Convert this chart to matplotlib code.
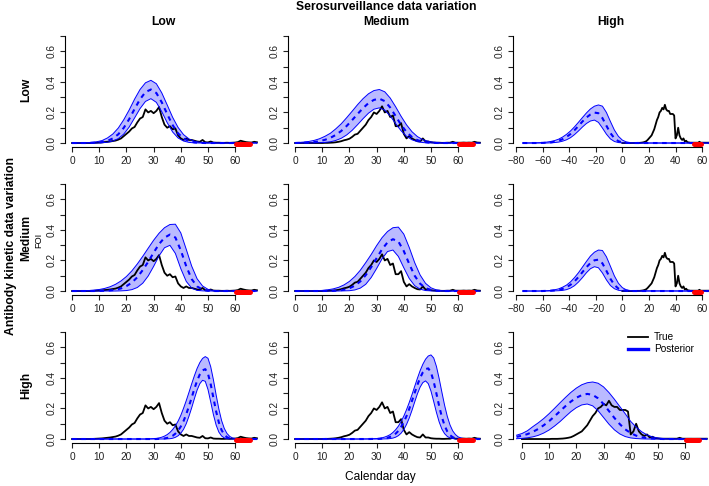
import numpy as np
import matplotlib.pyplot as plt

plt.rcParams['font.family'] = ['Liberation Sans', 'DejaVu Sans']

# calendar days of the simulated (true) force of infection
days = np.arange(0, 69)

# true FOI, one curve per serosurveillance column (low, medium, high)
true_low = [0, 0, 0, 0, 0, 0, 0, 0, .001, .002,
            .003, .004, .006, .008, .010, .013, .016, .022, .030, .045,
            .060, .075, .095, .105, .135, .160, .170, .220, .200, .210,
            .195, .210, .235, .170, .120, .100, .110, .090, .095, .050,
            .030, .020, .030, .020, .020, .015, .010, .008, .020, .005,
            .004, .010, .003, .002, .002, .001, .001, .002, .001, .002,
            .003, .006, .015, .010, .006, .004, .003, .008, .005]
true_med = [0, 0, 0, 0, 0, 0, 0, 0, 0, 0,
            0, .001, .001, .002, .003, .005, .008, .012, .018, .022,
            .028, .040, .055, .060, .080, .100, .120, .150, .170, .200,
            .190, .210, .240, .200, .210, .170, .180, .110, .110, .130,
            .060, .030, .045, .030, .020, .012, .010, .030, .010, .010,
            .005, .003, .002, .002, .001, .001, .002, .002, .008, .002,
            .002, .002, .003, .002, .003, .002, .008, .003, .002]
true_high = [0, 0, 0, 0, 0, 0, 0, 0, 0, 0,
             0, .001, .001, .001, .002, .003, .005, .008, .012, .020,
             .030, .040, .050, .070, .090, .120, .150, .170, .200, .210,
             .230, .220, .250, .220, .210, .210, .190, .190, .190, .180,
             .030, .050, .100, .050, .030, .020, .030, .010, .015, .005,
             .004, .002, .002, .002, .002, .002, .002, .002, .008, .002,
             .002, .002, .002, .002, .002, .002, .002, .002, .002]

# posterior FOI: upper / median / lower, row = antibody kinetics, col = serosurveillance
x11 = [0, 5, 9, 11, 13, 15, 17, 19, 21, 23, 25, 27, 29, 31, 33, 35, 37, 39, 41, 43, 45, 47, 49, 51, 68]
up11 = [0, .001, .008, .016, .033, .059, .098, .152, .216, .287, .350, .394, .410, .388, .328, .249, .168, .102, .055, .027, .012, .005, .002, 0, 0]
md11 = [0, 0, .002, .006, .014, .030, .057, .099, .156, .223, .286, .333, .350, .327, .266, .189, .117, .063, .030, .012, .004, .001, 0, 0, 0]
lo11 = [0, 0, 0, .002, .005, .013, .029, .058, .104, .164, .225, .272, .290, .266, .205, .133, .072, .033, .013, .004, .001, 0, 0, 0, 0]

x12 = [0, 1, 3, 5, 7, 9, 11, 13, 15, 17, 19, 21, 23, 25, 27, 29, 31, 33, 35, 37, 39, 41, 43, 45, 47, 49, 51, 53, 55, 68]
up12 = [.002, .003, .006, .010, .017, .028, .044, .064, .093, .126, .166, .208, .251, .290, .322, .343, .350, .335, .294, .237, .175, .119, .074, .042, .022, .011, .005, .002, 0, 0]
md12 = [0, .001, .002, .003, .006, .012, .021, .034, .053, .079, .112, .150, .190, .228, .261, .282, .290, .274, .232, .176, .119, .072, .039, .019, .008, .003, .001, 0, 0, 0]
lo12 = [0, 0, 0, 0, .001, .002, .004, .008, .017, .031, .053, .083, .120, .159, .195, .221, .230, .215, .177, .127, .080, .044, .021, .009, .003, .001, 0, 0, 0, 0]

x_wide = [-75, -66, -63, -60, -57, -54, -51, -48, -45, -42, -39, -36, -33, -30, -27, -24, -21, -18, -15, -12, -9, -6, -3, 0, 3, 6, 9, 65]
up13 = [0, .001, .002, .003, .006, .010, .016, .025, .039, .057, .079, .106, .136, .167, .197, .223, .241, .249, .241, .200, .141, .085, .044, .019, .007, .002, 0, 0]
md13 = [0, 0, 0, .001, .002, .004, .008, .015, .025, .040, .059, .084, .112, .141, .167, .187, .199, .195, .163, .113, .065, .031, .012, .004, .001, 0, 0, 0]
lo13 = [0, 0, 0, 0, 0, .001, .003, .006, .012, .021, .035, .055, .079, .105, .128, .144, .150, .135, .098, .058, .027, .010, .003, .001, 0, 0, 0, 0]

x21 = [0, 2, 4, 6, 8, 10, 12, 14, 16, 18, 20, 22, 24, 26, 28, 30, 32, 34, 36, 38, 40, 42, 44, 46, 48, 50, 52, 54, 68]
up21 = [0, .001, .002, .003, .006, .010, .017, .028, .044, .066, .095, .132, .177, .227, .280, .332, .378, .414, .435, .437, .380, .273, .163, .080, .033, .011, .003, 0, 0]
md21 = [0, 0, 0, 0, 0, .001, .002, .004, .008, .017, .032, .055, .090, .137, .191, .251, .307, .349, .369, .350, .266, .162, .078, .030, .009, .002, 0, 0, 0]
lo21 = [0, 0, 0, 0, 0, 0, 0, 0, 0, .001, .003, .009, .023, .051, .098, .161, .230, .283, .299, .246, .146, .063, .019, .004, .001, 0, 0, 0, 0]

x22 = [0, 2, 4, 6, 8, 10, 12, 14, 16, 18, 20, 22, 24, 26, 28, 30, 32, 34, 36, 38, 40, 42, 44, 46, 48, 50, 52, 54, 56, 68]
up22 = [0, 0, .001, .001, .002, .004, .008, .014, .024, .040, .063, .095, .136, .186, .239, .297, .349, .389, .414, .418, .372, .285, .186, .105, .050, .021, .007, .002, 0, 0]
md22 = [0, 0, 0, 0, 0, 0, .001, .001, .004, .008, .018, .035, .063, .104, .156, .215, .273, .318, .339, .324, .261, .177, .100, .048, .019, .007, .002, 0, 0, 0]
lo22 = [0, 0, 0, 0, 0, 0, 0, 0, 0, .001, .002, .007, .019, .044, .088, .147, .211, .258, .268, .226, .152, .082, .035, .012, .003, .001, 0, 0, 0, 0]

up23 = [0, 0, 0, .001, .002, .004, .008, .014, .025, .039, .060, .088, .120, .157, .194, .229, .254, .268, .265, .224, .162, .099, .051, .022, .008, .003, .001, 0]
md23 = [0, 0, 0, 0, .001, .002, .004, .007, .014, .025, .041, .063, .092, .124, .156, .183, .201, .205, .181, .132, .080, .040, .016, .006, .002, 0, 0, 0]
lo23 = [0, 0, 0, 0, 0, 0, .001, .002, .004, .009, .019, .035, .059, .088, .120, .146, .159, .152, .118, .073, .036, .015, .005, .001, 0, 0, 0, 0]

x_late = [0, 24, 27, 30, 31, 32, 33, 34, 35, 36, 37, 38, 39, 40, 41, 42, 43, 44, 45, 46,
          47, 48, 49, 50, 51, 52, 53, 54, 55, 56, 57, 58, 59, 60, 61, 62, 68]
up31 = [0, 0, 0, .003, .004, .007, .012, .019, .029, .043, .062, .086, .117, .155, .201, .251, .305, .361, .414, .462,
        .500, .527, .539, .528, .473, .387, .288, .196, .121, .069, .036, .017, .007, .003, .001, 0, 0]
md31 = [0, 0, 0, 0, 0, .001, .002, .004, .007, .012, .021, .035, .055, .082, .117, .162, .215, .271, .329, .381,
        .423, .449, .457, .427, .358, .268, .180, .108, .058, .028, .012, .005, .002, 0, 0, 0, 0]
lo31 = [0, 0, 0, 0, 0, 0, 0, 0, .001, .002, .005, .011, .021, .038, .063, .100, .149, .204, .264, .320,
        .362, .384, .377, .324, .243, .159, .091, .045, .020, .007, .002, .001, 0, 0, 0, 0, 0]

up32 = [0, 0, .001, .003, .005, .008, .013, .020, .029, .043, .061, .084, .114, .150, .192, .239, .290, .344, .397, .447,
        .489, .522, .543, .550, .530, .475, .396, .307, .221, .148, .092, .053, .029, .014, .007, .003, 0]
md32 = [0, 0, 0, .001, .001, .003, .005, .008, .014, .022, .035, .053, .079, .111, .150, .197, .249, .302, .354, .400,
        .436, .457, .462, .435, .375, .297, .216, .144, .088, .049, .025, .012, .005, .002, .001, 0, 0]
lo32 = [0, 0, 0, 0, 0, 0, .001, .001, .003, .006, .012, .022, .038, .062, .095, .137, .187, .242, .295, .339,
        .369, .380, .362, .313, .245, .174, .112, .065, .035, .017, .007, .003, .001, 0, 0, 0, 0]

x33 = [-2, 0, 2, 4, 6, 8, 10, 12, 14, 16, 18, 20, 22, 24, 26, 28, 30, 32, 34, 36, 38, 40, 42, 44, 46, 48, 50, 52, 54, 56, 58, 68]
up33 = [.025, .036, .054, .081, .106, .134, .166, .201, .237, .272, .305, .333, .355, .368, .373, .365, .341, .304, .260, .212, .165, .115, .078, .048, .027, .014, .007, .003, .001, 0, 0, 0]
md33 = [.014, .022, .032, .047, .066, .090, .117, .149, .182, .215, .245, .270, .287, .295, .289, .266, .229, .183, .138, .097, .063, .039, .022, .012, .006, .003, .001, 0, 0, 0, 0, 0]
lo33 = [.002, .004, .008, .014, .024, .039, .059, .085, .114, .147, .179, .205, .223, .229, .217, .185, .141, .097, .060, .033, .016, .007, .003, .001, 0, 0, 0, 0, 0, 0, 0, 0]

# red marks at the bottom of each panel (start day, end day)
red_normal = [60.2, 65.3]
red_wide = [54.0, 59.0]

level_names = ['Low', 'Medium', 'High']

W, H = 709, 486
fig = plt.figure(figsize=(W / 100, H / 100), dpi=100)

lefts = [65 / W, 288 / W, 513 / W]
bottoms = [1 - 147.3 / H, 1 - 295.3 / H, 1 - 443.3 / H]
aw, ah = 196 / W, 115.6 / H

panels = [
    (0, 0, x11, up11, md11, lo11), (0, 1, x12, up12, md12, lo12), (0, 2, x_wide, up13, md13, lo13),
    (1, 0, x21, up21, md21, lo21), (1, 1, x22, up22, md22, lo22), (1, 2, x_wide, up23, md23, lo23),
    (2, 0, x_late, up31, md31, lo31), (2, 1, x_late, up32, md32, lo32), (2, 2, x33, up33, md33, lo33),
]
trues = [true_low, true_med, true_high]

axes = {}
for r, c, x, up, md, lo in panels:
    ax = fig.add_axes([lefts[c], bottoms[r], aw, ah])
    axes[(r, c)] = ax
    wide = (c == 2 and r < 2)

    ax.fill_between(x, lo, up, facecolor=(0, 0, 1, 0.27), edgecolor='none', linewidth=0)
    ax.plot(days, trues[c], color='black', lw=1.3)
    ax.plot(x, up, color='blue', lw=0.7)
    ax.plot(x, lo, color='blue', lw=0.7)
    ax.plot(x, md, color='blue', lw=1.5, dashes=(2.2, 2.2))
    red = red_wide if wide else red_normal
    ax.plot(red, [-0.006, -0.006], color='red', lw=3.6, solid_capstyle='round')

    if wide:
        xt = np.arange(-80, 61, 20)
        ax.set_xlim(-82.3, 65.2)
    elif (r, c) == (2, 2):
        xt = np.arange(0, 61, 10)
        ax.set_xlim(-3.3, 68.8)
    else:
        xt = np.arange(0, 61, 10)
        ax.set_xlim(-2.6, 69.5)
    ax.set_ylim(-0.028, 0.728)

    ax.set_xticks(xt)
    ax.set_xticklabels([str(v).replace('-', '\u2212') for v in xt])
    yt = np.arange(0, 0.71, 0.1)
    ax.set_yticks(yt)
    ax.set_yticklabels(['0.0', '', '0.2', '', '0.4', '', '0.6', ''], rotation=90, va='center')

    for s in ['top', 'right']:
        ax.spines[s].set_visible(False)
    ax.spines['left'].set_bounds(0, 0.7)
    ax.spines['bottom'].set_bounds(xt[0], xt[-1])
    for s in ['left', 'bottom']:
        ax.spines[s].set_linewidth(0.8)
    ax.tick_params(length=3.6, width=0.8, labelsize=7.3, colors='#222222')
    ax.tick_params(axis='x', pad=2.6)
    ax.tick_params(axis='y', pad=2.4)
    ax.set_facecolor('none')

# column / row headings
fig.text(386 / W, 1 - 6.5 / H, 'Serosurveillance data variation', ha='center', va='center',
         fontsize=8.7, fontweight='bold')
for c, name in enumerate(level_names):
    fig.text(lefts[c] + aw / 2, 1 - 21.7 / H, name, ha='center', va='center',
             fontsize=8.7, fontweight='bold')
row_centers = [89.5, 237.5, 385.5]
for r, name in enumerate(level_names):
    fig.text(26.5 / W, 1 - row_centers[r] / H, name, rotation=90, ha='center', va='center',
             fontsize=8.7, fontweight='bold')
fig.text(11 / W, 1 - 246 / H, 'Antibody kinetic data variation', rotation=90, ha='center',
         va='center', fontsize=8.7, fontweight='bold')
fig.text(38.5 / W, 1 - 240 / H, 'FOI', rotation=90, ha='center', va='center', fontsize=6.6)
fig.text(380 / W, 1 - 476.5 / H, 'Calendar day', ha='center', va='center', fontsize=8.6)

ax = axes[(2, 2)]
h1, = ax.plot([], [], color='black', lw=1.3)
h2, = ax.plot([], [], color='blue', lw=2.4)
ax.legend([h1, h2], ['True', 'Posterior'], loc='upper left', bbox_to_anchor=(628 / W, 1 - 332 / H),
          bbox_transform=fig.transFigure, frameon=False, fontsize=7.2, handlelength=2.0,
          handletextpad=0.6, labelspacing=0.2, borderpad=0, borderaxespad=0)

fig.savefig('out.png', dpi=100)
